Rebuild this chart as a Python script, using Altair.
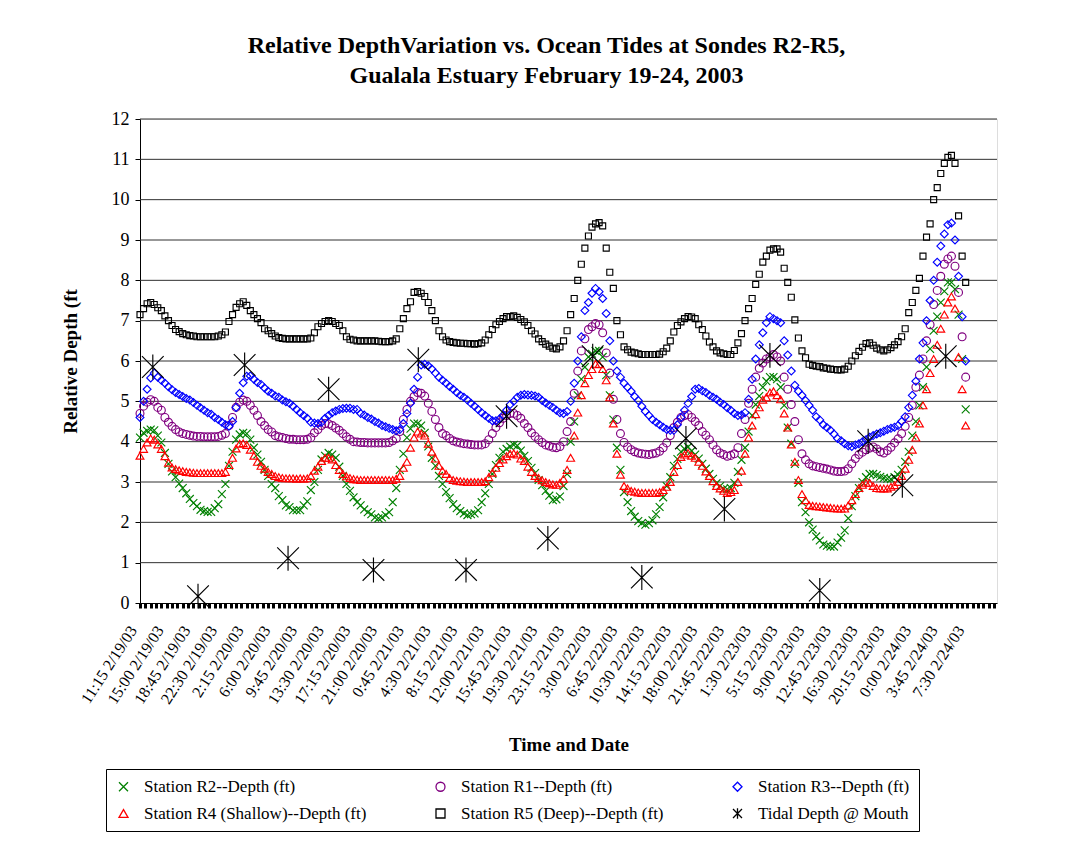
import altair as alt
import pandas as pd

# readings every half hour, hours after 11:15 2/19/03
HOURS = [0.5 * i for i in range(233)]

R2 = [4.10, 4.22, 4.27, 4.30, 4.28, 4.15, 3.98, 3.72, 3.45, 3.26,
      3.12, 2.96, 2.85, 2.72, 2.58, 2.48, 2.40, 2.31, 2.28, 2.26,
      2.26, 2.35, 2.45, 2.70, 2.95, 3.40, 3.75, 4.05, 4.18, 4.22,
      4.20, 4.05, 3.85, 3.68, 3.50, 3.30, 3.15, 2.95, 2.85, 2.65,
      2.55, 2.42, 2.38, 2.30, 2.30, 2.30, 2.42, 2.52, 2.80, 3.00,
      3.30, 3.56, 3.65, 3.72, 3.68, 3.60, 3.38, 3.15, 2.95, 2.78,
      2.62, 2.50, 2.42, 2.32, 2.25, 2.20, 2.12, 2.10, 2.12, 2.18,
      2.25, 2.50, 2.85, 3.30, 3.70, 4.10, 4.32, 4.45, 4.45, 4.40,
      4.22, 3.88, 3.60, 3.40, 3.15, 2.95, 2.75, 2.60, 2.45, 2.35,
      2.28, 2.22, 2.18, 2.20, 2.22, 2.30, 2.50, 2.72, 2.95, 3.20,
      3.42, 3.60, 3.75, 3.82, 3.88, 3.92, 3.90, 3.78, 3.65, 3.52,
      3.35, 3.22, 3.05, 2.92, 2.78, 2.66, 2.55, 2.57, 2.64, 2.90,
      3.20, 4.00, 4.50, 5.15, 5.55, 5.85, 6.10, 6.18, 6.25, 6.25,
      6.10, 5.65, 5.15, 4.55, 3.85, 3.30, 2.75, 2.50, 2.28, 2.14,
      2.03, 1.98, 1.94, 1.98, 2.05, 2.20, 2.38, 2.62, 2.90, 3.12,
      3.40, 3.57, 3.75, 3.82, 3.87, 3.77, 3.68, 3.58, 3.45, 3.33,
      3.20, 3.08, 2.97, 2.90, 2.83, 2.82, 2.85, 2.98, 3.25, 3.55,
      3.85, 4.25, 4.65, 4.92, 5.13, 5.35, 5.50, 5.60, 5.60, 5.55,
      5.35, 4.90, 4.35, 3.95, 3.45, 2.98, 2.50, 2.25, 2.00, 1.82,
      1.65, 1.55, 1.45, 1.42, 1.40, 1.40, 1.50, 1.62, 1.80, 2.10,
      2.40, 2.65, 2.85, 3.00, 3.12, 3.20, 3.20, 3.17, 3.13, 3.10,
      3.08, 3.07, 3.12, 3.18, 3.30, 3.50, 3.75, 4.15, 4.50, 4.90,
      5.35, 5.85, 6.30, 6.75, 7.10, 7.45, 7.73, 7.95, 7.95, 7.78,
      7.15, 6.05, 4.80]

R1 = [4.70, 4.88, 4.98, 5.04, 5.00, 4.85, 4.78, 4.60, 4.48, 4.38,
      4.30, 4.24, 4.20, 4.18, 4.16, 4.14, 4.13, 4.13, 4.12, 4.12,
      4.12, 4.12, 4.13, 4.16, 4.20, 4.40, 4.60, 4.85, 4.98, 5.03,
      5.00, 4.90, 4.78, 4.65, 4.50, 4.40, 4.30, 4.24, 4.15, 4.12,
      4.10, 4.08, 4.06, 4.06, 4.05, 4.05, 4.05, 4.06, 4.10, 4.22,
      4.30, 4.40, 4.45, 4.44, 4.40, 4.34, 4.28, 4.20, 4.12, 4.06,
      4.00, 3.99, 3.98, 3.98, 3.97, 3.97, 3.97, 3.97, 3.97, 3.97,
      3.98, 4.02, 4.08, 4.25, 4.55, 4.80, 5.00, 5.12, 5.22, 5.20,
      5.13, 4.95, 4.75, 4.55, 4.35, 4.20, 4.15, 4.08, 4.02, 3.99,
      3.97, 3.95, 3.94, 3.93, 3.92, 3.92, 3.92, 3.95, 4.05, 4.20,
      4.35, 4.47, 4.58, 4.65, 4.70, 4.70, 4.65, 4.58, 4.45, 4.35,
      4.22, 4.13, 4.05, 3.98, 3.92, 3.89, 3.86, 3.85, 3.88, 4.00,
      4.25, 4.50, 5.20, 5.75, 6.25, 6.55, 6.78, 6.85, 6.93, 6.90,
      6.70, 6.20, 5.70, 5.05, 4.55, 4.20, 3.98, 3.87, 3.80, 3.75,
      3.72, 3.70, 3.69, 3.68, 3.70, 3.72, 3.76, 3.85, 3.97, 4.15,
      4.35, 4.48, 4.60, 4.65, 4.67, 4.60, 4.50, 4.40, 4.25, 4.16,
      4.05, 3.92, 3.80, 3.72, 3.68, 3.64, 3.66, 3.70, 3.85, 4.20,
      4.55, 4.95, 5.30, 5.60, 5.82, 5.95, 6.05, 6.10, 6.16, 6.10,
      6.00, 5.60, 5.30, 4.92, 4.50, 4.05, 3.70, 3.55, 3.45, 3.40,
      3.38, 3.36, 3.34, 3.32, 3.30, 3.27, 3.26, 3.26, 3.27, 3.33,
      3.45, 3.58, 3.68, 3.74, 3.80, 3.84, 3.87, 3.82, 3.75, 3.72,
      3.78, 3.86, 3.97, 4.07, 4.20, 4.38, 4.60, 4.90, 5.35, 5.65,
      6.05, 6.50, 6.90, 7.40, 7.75, 8.10, 8.40, 8.53, 8.60, 8.35,
      7.70, 6.60, 5.60]

R3 = [4.60, 5.00, 5.30, 5.58, 5.70, 5.60, 5.52, 5.45, 5.36, 5.29,
      5.22, 5.17, 5.12, 5.07, 5.03, 4.97, 4.90, 4.84, 4.78, 4.72,
      4.68, 4.60, 4.55, 4.48, 4.42, 4.38, 4.50, 4.85, 5.20, 5.46,
      5.62, 5.63, 5.55, 5.47, 5.42, 5.33, 5.25, 5.20, 5.13, 5.10,
      5.03, 4.99, 4.95, 4.88, 4.80, 4.72, 4.65, 4.58, 4.48, 4.46,
      4.45, 4.48, 4.58, 4.65, 4.72, 4.76, 4.80, 4.82, 4.83, 4.83,
      4.80, 4.80, 4.70, 4.66, 4.60, 4.56, 4.50, 4.46, 4.40, 4.37,
      4.33, 4.30, 4.27, 4.30, 4.45, 4.70, 4.95, 5.30, 5.60, 5.90,
      5.92, 5.88, 5.80, 5.70, 5.60, 5.52, 5.45, 5.37, 5.30, 5.22,
      5.15, 5.10, 5.03, 4.95, 4.88, 4.80, 4.72, 4.65, 4.58, 4.52,
      4.52, 4.56, 4.65, 4.78, 4.92, 5.00, 5.10, 5.15, 5.17, 5.16,
      5.15, 5.13, 5.10, 5.02, 4.96, 4.90, 4.85, 4.78, 4.72, 4.70,
      4.75, 5.00, 5.45, 6.00, 6.60, 7.25, 7.45, 7.68, 7.80, 7.72,
      7.55, 7.18, 6.50, 6.00, 5.75, 5.60, 5.45, 5.35, 5.25, 5.12,
      5.02, 4.88, 4.75, 4.65, 4.55, 4.48, 4.42, 4.36, 4.30, 4.28,
      4.28, 4.42, 4.60, 4.78, 4.95, 5.12, 5.30, 5.32, 5.26, 5.22,
      5.15, 5.10, 5.05, 4.98, 4.92, 4.84, 4.78, 4.70, 4.65, 4.66,
      4.72, 5.05, 5.55, 6.05, 6.40, 6.70, 6.95, 7.10, 7.05, 7.00,
      6.95, 6.50, 6.15, 5.75, 5.40, 5.25, 5.15, 5.02, 4.90, 4.78,
      4.62, 4.54, 4.42, 4.35, 4.28, 4.19, 4.08, 4.02, 3.95, 3.90,
      3.88, 3.92, 3.95, 4.00, 4.05, 4.11, 4.15, 4.19, 4.22, 4.26,
      4.30, 4.33, 4.36, 4.40, 4.50, 4.62, 4.85, 5.15, 5.50, 6.05,
      6.45, 7.00, 7.50, 8.00, 8.45, 8.85, 9.15, 9.38, 9.42, 9.00,
      8.10, 7.10, 6.00]

R4 = [3.65, 3.82, 3.98, 4.08, 4.05, 3.93, 3.82, 3.64, 3.48, 3.36,
      3.32, 3.29, 3.27, 3.25, 3.24, 3.23, 3.22, 3.22, 3.22, 3.22,
      3.22, 3.22, 3.22, 3.22, 3.25, 3.42, 3.60, 3.83, 3.95, 3.96,
      3.92, 3.80, 3.65, 3.50, 3.40, 3.33, 3.25, 3.20, 3.15, 3.12,
      3.10, 3.09, 3.09, 3.09, 3.08, 3.09, 3.08, 3.09, 3.15, 3.28,
      3.38, 3.52, 3.60, 3.60, 3.56, 3.42, 3.30, 3.20, 3.14, 3.10,
      3.07, 3.06, 3.05, 3.05, 3.05, 3.05, 3.05, 3.05, 3.05, 3.05,
      3.05, 3.05, 3.08, 3.15, 3.35, 3.50, 3.85, 4.10, 4.25, 4.20,
      4.15, 3.95, 3.75, 3.58, 3.40, 3.28, 3.20, 3.10, 3.05, 3.03,
      3.02, 3.01, 3.00, 3.00, 3.00, 3.00, 3.00, 3.02, 3.12, 3.23,
      3.35, 3.47, 3.56, 3.64, 3.70, 3.71, 3.68, 3.58, 3.52, 3.38,
      3.25, 3.15, 3.10, 3.04, 3.00, 2.97, 2.94, 2.93, 2.98, 3.08,
      3.30, 3.60, 4.15, 4.72, 5.15, 5.45, 5.65, 5.80, 5.93, 5.92,
      5.80, 5.52, 5.10, 4.45, 3.70, 3.18, 2.90, 2.84, 2.78, 2.76,
      2.74, 2.73, 2.73, 2.73, 2.73, 2.73, 2.75, 2.80, 2.88, 3.00,
      3.25, 3.42, 3.62, 3.68, 3.72, 3.65, 3.60, 3.50, 3.40, 3.26,
      3.15, 3.02, 2.90, 2.84, 2.78, 2.73, 2.75, 2.80, 3.00, 3.28,
      3.70, 4.10, 4.40, 4.68, 4.85, 5.04, 5.10, 5.22, 5.25, 5.15,
      5.05, 4.70, 4.35, 3.93, 3.50, 3.05, 2.70, 2.55, 2.43, 2.41,
      2.40, 2.39, 2.38, 2.37, 2.36, 2.35, 2.34, 2.34, 2.34, 2.42,
      2.55, 2.70, 2.85, 2.93, 2.98, 2.98, 2.90, 2.85, 2.84, 2.84,
      2.84, 2.88, 2.92, 3.00, 3.15, 3.33, 3.55, 3.80, 4.10, 4.45,
      4.90, 5.30, 5.70, 6.05, 6.40, 6.80, 7.15, 7.45, 7.60, 7.30,
      6.10, 5.30, 4.40]

R5 = [7.15, 7.30, 7.42, 7.45, 7.40, 7.32, 7.25, 7.12, 7.00, 6.88,
      6.78, 6.73, 6.68, 6.65, 6.63, 6.62, 6.60, 6.60, 6.60, 6.60,
      6.60, 6.60, 6.62, 6.65, 6.72, 6.98, 7.15, 7.33, 7.42, 7.47,
      7.38, 7.25, 7.15, 7.05, 6.95, 6.80, 6.75, 6.68, 6.62, 6.58,
      6.56, 6.55, 6.55, 6.55, 6.55, 6.55, 6.55, 6.55, 6.57, 6.70,
      6.85, 6.93, 6.98, 7.00, 6.98, 6.93, 6.88, 6.75, 6.60, 6.54,
      6.52, 6.50, 6.50, 6.50, 6.50, 6.50, 6.50, 6.49, 6.48, 6.48,
      6.48, 6.50, 6.55, 6.80, 7.05, 7.30, 7.47, 7.70, 7.72, 7.68,
      7.60, 7.45, 7.25, 7.00, 6.75, 6.60, 6.52, 6.48, 6.46, 6.45,
      6.44, 6.44, 6.43, 6.43, 6.42, 6.43, 6.45, 6.52, 6.65, 6.78,
      6.90, 6.98, 7.05, 7.10, 7.10, 7.12, 7.08, 7.03, 6.97, 6.88,
      6.75, 6.67, 6.55, 6.48, 6.42, 6.37, 6.32, 6.30, 6.35, 6.50,
      6.75, 7.15, 7.55, 8.00, 8.40, 8.80, 9.10, 9.32, 9.40, 9.43,
      9.35, 8.80, 8.20, 7.80, 7.00, 6.65, 6.35, 6.28, 6.22, 6.20,
      6.18, 6.16, 6.16, 6.16, 6.16, 6.16, 6.17, 6.23, 6.32, 6.50,
      6.72, 6.88, 6.97, 7.05, 7.10, 7.09, 7.05, 6.90, 6.78, 6.62,
      6.47, 6.35, 6.25, 6.20, 6.18, 6.16, 6.16, 6.26, 6.45, 6.68,
      7.00, 7.30, 7.55, 7.90, 8.15, 8.45, 8.60, 8.75, 8.78, 8.78,
      8.70, 8.30, 7.95, 7.58, 7.02, 6.57, 6.25, 6.08, 5.92, 5.89,
      5.87, 5.86, 5.83, 5.82, 5.80, 5.79, 5.78, 5.78, 5.80, 5.87,
      6.00, 6.13, 6.24, 6.34, 6.43, 6.45, 6.39, 6.32, 6.28, 6.25,
      6.28, 6.33, 6.40, 6.48, 6.60, 6.80, 7.20, 7.45, 7.75, 8.05,
      8.60, 9.07, 9.40, 10.00, 10.30, 10.65, 10.90, 11.05, 11.10, 10.90,
      9.60, 8.60, 7.95]

TIDE_HOURS = [1.8, 8.15, 14.7, 20.8, 26.5, 32.8, 39.1, 45.8, 51.5, 57.3,
              63.6, 70.5, 76.7, 82.1, 88.5, 95.5, 102.3, 107.1, 113.2]
TIDE_DEPTH = [5.85, 0.17, 5.90, 1.11, 5.30, 0.82, 6.03, 0.82, 4.63, 1.60,
              6.12, 0.63, 4.08, 2.33, 6.14, 0.31, 4.01, 2.92, 6.12]

X_LABELS = ["11:15 2/19/03", "15:00 2/19/03", "18:45 2/19/03", "22:30 2/19/03",
            "2:15 2/20/03", "6:00 2/20/03", "9:45 2/20/03", "13:30 2/20/03",
            "17:15 2/20/03", "21:00 2/20/03", "0:45 2/21/03", "4:30 2/21/03",
            "8:15 2/21/03", "12:00 2/21/03", "15:45 2/21/03", "19:30 2/21/03",
            "23:15 2/21/03", "3:00 2/22/03", "6:45 2/22/03", "10:30 2/22/03",
            "14:15 2/22/03", "18:00 2/22/03", "21:45 2/22/03", "1:30 2/23/03",
            "5:15 2/23/03", "9:00 2/23/03", "12:45 2/23/03", "16:30 2/23/03",
            "20:15 2/23/03", "0:00 2/24/03", "3:45 2/24/03", "7:30 2/24/03"]

SERIES = ["Station R2--Depth (ft)", "Station R1--Depth (ft)", "Station R3--Depth (ft)",
          "Station R4 (Shallow)--Depth (ft)", "Station R5 (Deep)--Depth (ft)",
          "Tidal Depth @ Mouth"]
COLORS = ["#008000", "#800080", "#0000FF", "#FF0000", "#000000", "#000000"]
X_PATH = "M-1,-1L1,1M-1,1L1,-1"
STAR_PATH = "M-1,-1L1,1M-1,1L1,-1M0,-1.15L0,1.15"
SHAPES = [X_PATH, "circle", "diamond", "triangle-up", "square", STAR_PATH]

GRID_VALUES = [1, 2, 3, 4, 5, 6, 7, 8, 9, 10, 11, 12]

rows = []
for name, vals in zip(SERIES[:5], [R2, R1, R3, R4, R5]):
    for h, v in zip(HOURS, vals):
        rows.append({"hours": h, "depth": v, "series": name})
for h, v in zip(TIDE_HOURS, TIDE_DEPTH):
    rows.append({"hours": h, "depth": v, "series": SERIES[5]})
df = pd.DataFrame(rows)

FONT = "Liberation Serif"
x_ticks = [0.75 * i for i in range(161)]
label_array = "[" + ",".join("'%s'" % s for s in X_LABELS) + "]"
label_expr = ("(datum.value % 3.75 == 0 && datum.value / 3.75 < " + str(len(X_LABELS)) +
              ") ? " + label_array + "[datum.value / 3.75] : ''")

y_scale = alt.Scale(domain=[0, 12], nice=False, zero=True)

x_enc = alt.X("hours:Q",
              scale=alt.Scale(domain=[0, 120.4], nice=False, zero=False),
              axis=alt.Axis(values=x_ticks, labelExpr=label_expr, labelAngle=-57,
                            labelAlign="right", labelBaseline="middle",
                            labelOverlap=False, labelFlush=False,
                            labelFont=FONT, labelFontSize=16, labelColor="black",
                            labelPadding=19, labelOffset=-7,
                            tickSize=5, tickWidth=3, tickColor="black",
                            domainColor="black", grid=False,
                            titleFont=FONT, titleFontSize=19, titleFontWeight="bold",
                            titleColor="black", titlePadding=29),
              title="Time and Date")

y_enc = alt.Y("depth:Q", scale=y_scale,
              axis=alt.Axis(values=[0.5 * i for i in range(25)],
                            labelExpr="datum.value % 1 == 0 ? datum.label : ''",
                            grid=False, tickSize=5, tickColor="black", domainColor="black",
                            labelFont=FONT, labelFontSize=18, labelColor="black",
                            labelPadding=6,
                            titleFont=FONT, titleFontSize=19, titleFontWeight="bold",
                            titleColor="black", titlePadding=31),
              title="Relative Depth (ft")

grid = alt.Chart(pd.DataFrame({"depth": GRID_VALUES})).mark_rule(
    color="#303030", strokeWidth=1).encode(y=alt.Y("depth:Q", scale=y_scale))

legend = alt.Legend(title=None, orient="none", legendX=-34, legendY=650, columns=3,
                    direction="horizontal",
                    columnPadding=65, rowPadding=9, padding=9,
                    strokeColor="black", labelLimit=400,
                    labelFont=FONT, labelFontSize=17, labelColor="black",
                    symbolSize=81, symbolStrokeWidth=1.3, labelOffset=12)

color_enc = alt.Color("series:N", scale=alt.Scale(domain=SERIES, range=COLORS), legend=legend)
shape_enc = alt.Shape("series:N", scale=alt.Scale(domain=SERIES, range=SHAPES), legend=legend)


def point_layer(names, size):
    return alt.Chart(df).transform_filter(
        alt.FieldOneOfPredicate(field="series", oneOf=names)
    ).mark_point(filled=False, opacity=1, strokeWidth=1.15, size=size).encode(
        x=x_enc, y=y_enc, color=color_enc, shape=shape_enc)


sondes = point_layer(SERIES[:4], 62)
deep = point_layer([SERIES[4]], 36)
tide = point_layer([SERIES[5]], 470)

chart = alt.layer(grid, sondes, deep, tide).properties(
    width=857, height=484,
    autosize=alt.AutoSizeParams(type="none"),
    padding={"left": 132, "top": 111, "right": 69, "bottom": 249},
    title=alt.TitleParams(
        text=["Relative DepthVariation vs. Ocean Tides at Sondes R2-R5,",
              "Gualala Estuary February 19-24, 2003"],
        font=FONT, fontSize=24, fontWeight="bold", lineHeight=30, color="black",
        anchor="middle", frame="group", dx=-22, offset=22),
).configure_view(stroke="black", strokeWidth=1).configure_legend(
    labelFont=FONT, labelFontSize=17, labelColor="black", labelLimit=400
).configure(background="white", font=FONT)

chart.save("out.html", embed_options={"renderer": "svg", "actions": False})
